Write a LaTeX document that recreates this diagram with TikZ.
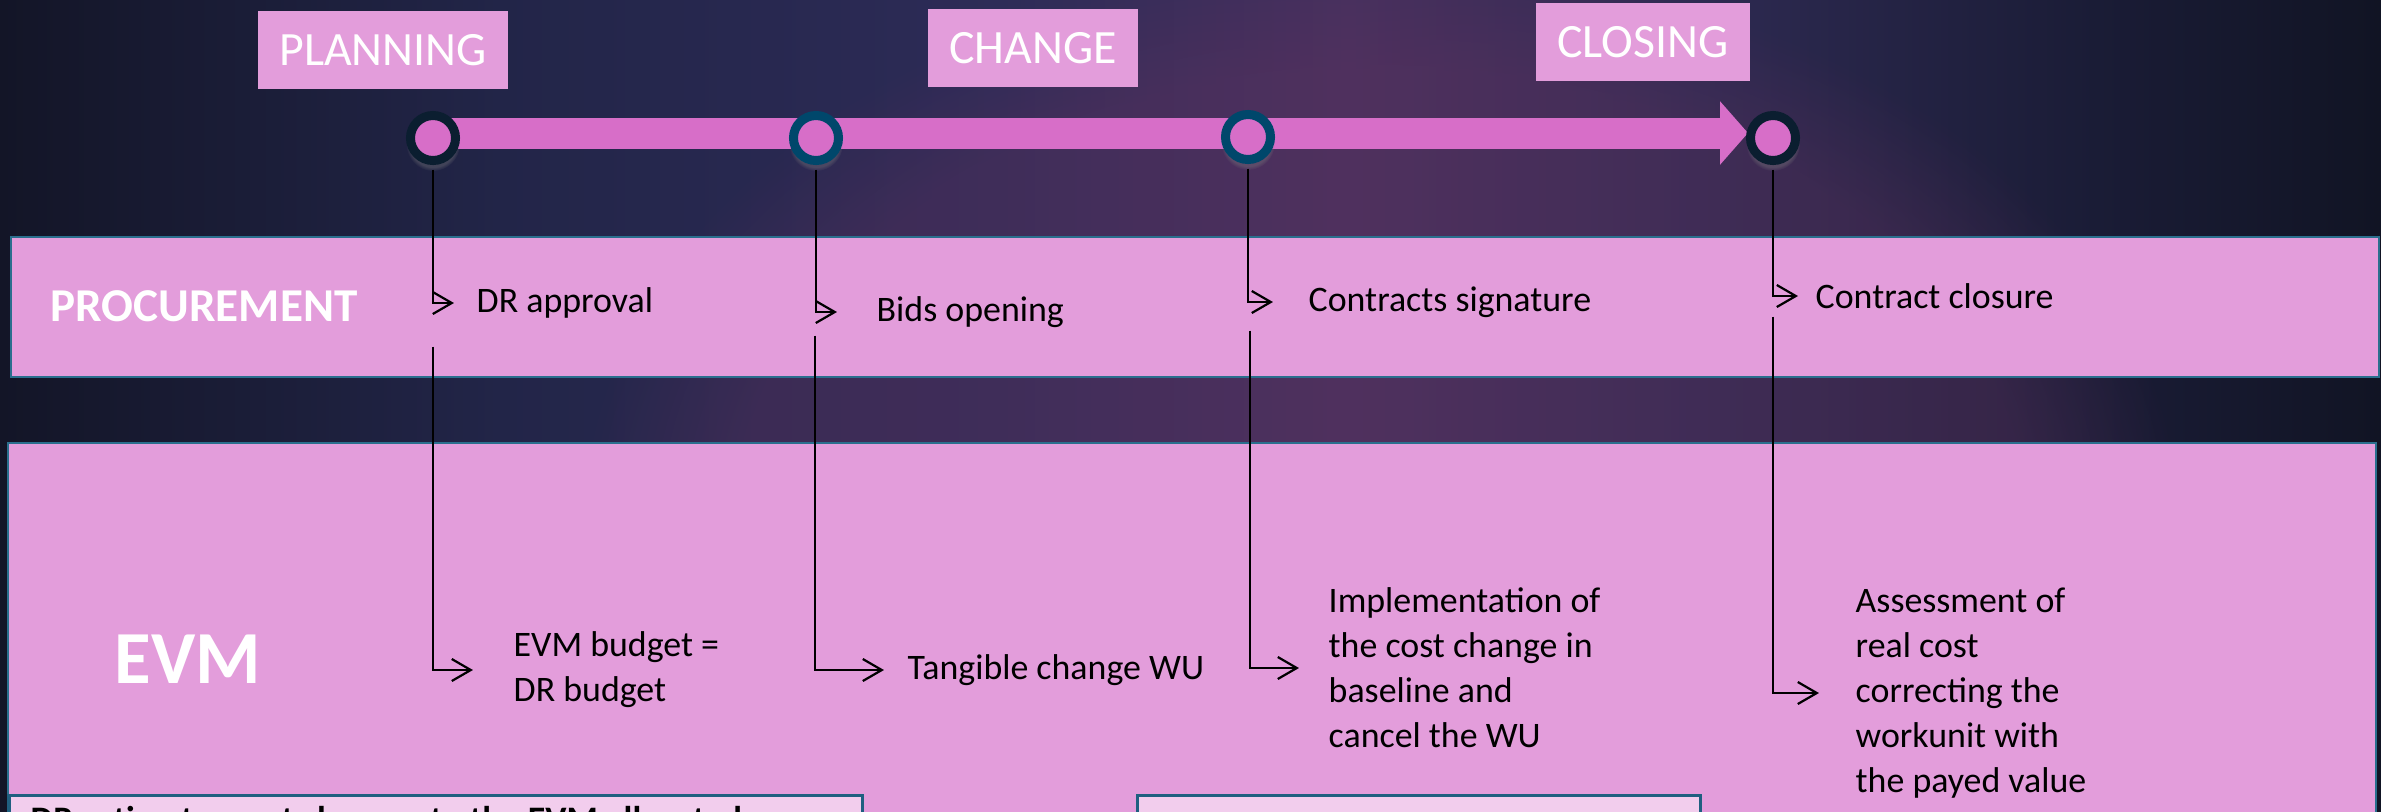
\documentclass[tikz,border=0pt]{standalone}
\usepackage{fontspec}
\setmainfont{Carlito}
\usetikzlibrary{arrows.meta,shadows,fadings}
\definecolor{bgA}{HTML}{131527}
\definecolor{bgB}{HTML}{222548}
\definecolor{bgC}{HTML}{2D2B57}
\definecolor{bgD}{HTML}{46305E}
\definecolor{bgE}{HTML}{2E2A52}
\definecolor{bgF}{HTML}{1A1C36}
\definecolor{bgG}{HTML}{111424}
\definecolor{glowc}{HTML}{62325F}
\definecolor{bandpink}{HTML}{E39DDB}
\definecolor{barpink}{HTML}{D76EC8}
\definecolor{bandline}{HTML}{2A6F8E}
\definecolor{ringdark}{HTML}{0B1E30}
\definecolor{ringteal}{HTML}{00476B}
\definecolor{notefill}{HTML}{F2CDED}
\definecolor{noteline}{HTML}{1F5F80}
\pgfdeclarehorizontalshading{bgshade}{100bp}{color(0bp)=(bgA); color(25bp)=(bgA);
  color(35.5bp)=(bgB); color(46bp)=(bgC); color(53.3bp)=(bgD); color(60.7bp)=(bgE);
  color(69bp)=(bgF); color(75bp)=(bgG); color(100bp)=(bgG)}
\tikzset{
 band/.style={fill=bandpink, draw=bandline, line width=0.025cm},
 notebox/.style={fill=notefill, draw=noteline, line width=0.03cm},
 phase/.style={fill=bandpink, text=white, font=\fontsize{13.6}{16}\selectfont,
   minimum height=0.78cm, inner sep=0pt},
 lane/.style={text=white, anchor=west, inner sep=0pt},
 milestone/.style={circle, fill=barpink, line width=0.09cm, minimum size=0.45cm, inner sep=0pt,
   circular drop shadow={shadow scale=1.2, shadow xshift=0pt, shadow yshift=-0.05cm, opacity=0.35}},
 event/.style={font=\fontsize{10.2}{12.8}\selectfont, anchor=west, align=left, inner sep=0pt},
 timebar/.style={draw=barpink, line width=0.31cm, -{Triangle[length=0.28cm,width=0.62cm]}},
 link/.style={draw=black, line width=0.022cm, shorten <=0.045cm,
   -{Straight Barb[length=0.19cm,width=0.22cm]}},
}

\begin{document}
\begin{tikzpicture}[x=0.01cm,y=-0.01cm]
  \useasboundingbox (0,0) rectangle (2381,811);
  \clip (0,0) rectangle (2381,811);
  \shade[shading=bgshade] (0,0) rectangle (2381,811);
  \fill[glowc, opacity=0.35, path fading=circle with fuzzy edge 20 percent] (1380,520) ellipse (800 and 560);

  \draw[band] (11,237) rectangle (2379,377);
  \draw[band] (8,443) rectangle (2376,850);
  \draw[notebox] (9,795) rectangle (862,850);
  \draw[notebox] (1137,795) rectangle (1700,850);

  \node[lane, font=\bfseries\fontsize{13.4}{16}\selectfont] (proc) at (50,306) {PROCUREMENT};
  \node[lane, font=\bfseries\fontsize{21.3}{24}\selectfont] (evm) at (114,659) {EVM};
  \node[anchor=north west, inner sep=0pt, font=\bfseries\fontsize{10.2}{12.8}\selectfont] (note) at (30,806)
    {DR estimates cost changes to the EVM allocated};

  \node[phase, minimum width=2.49cm] (planning) at (383,50) {PLANNING};
  \node[phase, minimum width=2.09cm] (change) at (1033,48) {CHANGE};
  \node[phase, minimum width=2.13cm] (closing) at (1643,42) {CLOSING};

  \coordinate (t0) at (433,133);
  \coordinate (tip) at (1748,133);
  \draw[timebar] (t0) -- (tip);

  \node[milestone, draw=ringdark] (c1) at (433,138) {};
  \node[milestone, draw=ringteal] (c2) at (816,138) {};
  \node[milestone, draw=ringteal] (c3) at (1248,137) {};
  \node[milestone, draw=ringdark] (c4) at (1773,138) {};

  \node[event] (pdr) at (476,303) {DR approval};
  \node[event] (pbids) at (876,312) {Bids opening};
  \node[event] (pcon) at (1308,302) {Contracts signature};
  \node[event] (pclose) at (1815,296) {Contract closure};

  \node[event] (ebudget) at (513,670) {EVM budget =\\DR budget};
  \node[event] (etang) at (907,670) {Tangible change WU};
  \node[event] (eimpl) at (1328,668) {Implementation of\\the cost change in\\baseline and\\cancel the WU};
  \node[event] (eass) at (1855,693) {Assessment of\\real cost\\correcting the\\workunit with\\the payed value};

  \coordinate (s1) at (433,342);
  \coordinate (s2) at (815,331);
  \coordinate (s3) at (1250,326);
  \coordinate (s4) at (1773,312);

  \draw[link, shorten >=0.22cm] (c1.south) |- (pdr.west);
  \draw[link, shorten >=0.39cm] (c2.south) |- (pbids.west);
  \draw[link, shorten >=0.35cm] (c3.south) |- (pcon.west);
  \draw[link, shorten >=0.17cm] (c4.south) |- (pclose.west);

  \draw[link, shorten >=0.4cm] (s1) |- (ebudget.west);
  \draw[link, shorten >=0.23cm] (s2) |- (etang.west);
  \draw[link, shorten >=0.29cm] (s3) |- (eimpl.west);
  \draw[link, shorten >=0.36cm] (s4) |- (eass.west);
\end{tikzpicture}
\end{document}
